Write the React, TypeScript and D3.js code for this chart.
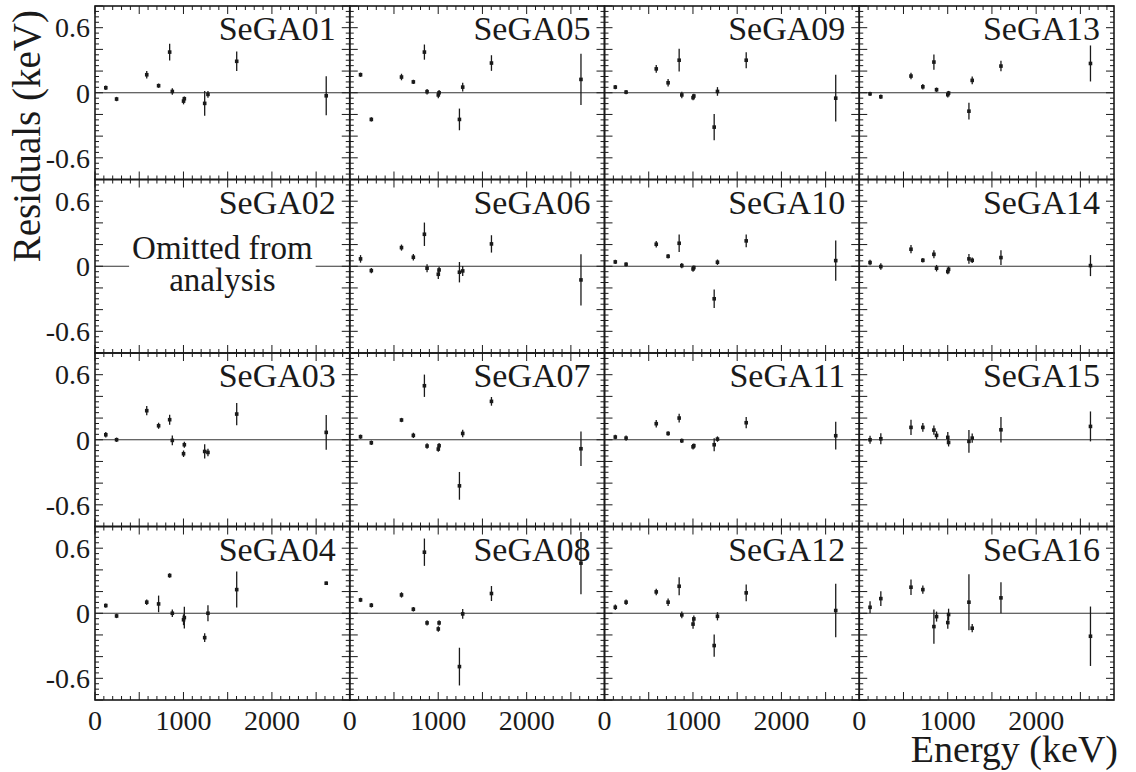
import React, { useEffect, useRef } from "react";
import * as d3 from "d3";

// gamma line energies (keV) used in every detector
const energies = [122, 244, 585, 719, 844, 874, 1001, 1010, 1240, 1277, 1602, 2614];

// residuals (keV) and errors per detector
const res01 = [0.046, -0.058, 0.166, 0.065, 0.375, 0.012, -0.077, -0.055, -0.098, -0.015, 0.29, -0.028];
const err01 = [0.02, 0.02, 0.035, 0.02, 0.077, 0.03, 0.03, 0.02, 0.115, 0.03, 0.09, 0.18];
const res03 = [0.046, 0.0, 0.268, 0.129, 0.185, -0.006, -0.129, -0.046, -0.108, -0.117, 0.237, 0.068];
const err03 = [0.025, 0.02, 0.043, 0.028, 0.046, 0.045, 0.03, 0.028, 0.066, 0.035, 0.103, 0.16];
const res04 = [0.071, -0.025, 0.102, 0.086, 0.348, 0.0, -0.06, -0.04, -0.225, 0.0, 0.218, 0.277];
const err04 = [0.02, 0.02, 0.025, 0.077, 0.02, 0.035, 0.05, 0.1, 0.04, 0.074, 0.166, 0.015];
const res05 = [0.166, -0.246, 0.145, 0.1, 0.375, 0.01, -0.02, 0.0, -0.246, 0.052, 0.274, 0.123];
const err05 = [0.02, 0.02, 0.03, 0.02, 0.07, 0.025, 0.03, 0.025, 0.1, 0.04, 0.072, 0.237];
const res06 = [0.068, -0.04, 0.172, 0.083, 0.295, -0.018, -0.074, -0.034, -0.055, -0.043, 0.206, -0.126];
const err06 = [0.035, 0.025, 0.028, 0.03, 0.108, 0.037, 0.043, 0.03, 0.094, 0.046, 0.08, 0.237];
const res07 = [0.028, -0.028, 0.182, 0.04, 0.498, -0.058, -0.086, -0.055, -0.425, 0.058, 0.354, -0.083];
const err07 = [0.02, 0.02, 0.02, 0.025, 0.103, 0.025, 0.025, 0.025, 0.128, 0.034, 0.04, 0.16];
const res08 = [0.123, 0.074, 0.169, 0.037, 0.563, -0.089, -0.145, -0.089, -0.492, -0.006, 0.182, 0.462];
const err08 = [0.02, 0.02, 0.025, 0.02, 0.126, 0.025, 0.025, 0.025, 0.174, 0.045, 0.069, 0.287];
const res09 = [0.052, 0.006, 0.22, 0.092, 0.3, -0.02, -0.045, -0.03, -0.317, 0.012, 0.3, -0.05];
const err09 = [0.02, 0.02, 0.035, 0.035, 0.105, 0.03, 0.025, 0.02, 0.12, 0.04, 0.074, 0.215];
const res10 = [0.04, 0.018, 0.203, 0.092, 0.212, 0.006, -0.025, -0.012, -0.3, 0.037, 0.234, 0.052];
const err10 = [0.02, 0.02, 0.03, 0.02, 0.08, 0.025, 0.025, 0.02, 0.085, 0.025, 0.058, 0.185];
const res11 = [0.025, 0.015, 0.148, 0.058, 0.2, -0.009, -0.065, -0.055, -0.046, 0.006, 0.157, 0.037];
const err11 = [0.02, 0.025, 0.035, 0.02, 0.04, 0.02, 0.025, 0.02, 0.06, 0.025, 0.052, 0.128];
const res12 = [0.055, 0.102, 0.197, 0.102, 0.249, -0.015, -0.1, -0.052, -0.298, -0.028, 0.188, 0.025];
const err12 = [0.025, 0.025, 0.03, 0.034, 0.082, 0.03, 0.043, 0.032, 0.103, 0.038, 0.077, 0.246];
const res13 = [-0.01, -0.037, 0.154, 0.055, 0.283, 0.028, -0.018, -0.003, -0.17, 0.114, 0.246, 0.27];
const err13 = [0.02, 0.02, 0.03, 0.025, 0.07, 0.02, 0.025, 0.02, 0.077, 0.035, 0.048, 0.166];
const res14 = [0.034, -0.003, 0.157, 0.055, 0.11, -0.018, -0.049, -0.028, 0.068, 0.055, 0.08, 0.006];
const err14 = [0.025, 0.03, 0.038, 0.02, 0.037, 0.03, 0.025, 0.025, 0.046, 0.025, 0.068, 0.097];
const res15 = [0.0, 0.009, 0.114, 0.114, 0.089, 0.04, 0.022, -0.025, -0.015, 0.015, 0.092, 0.123];
const err15 = [0.038, 0.05, 0.07, 0.04, 0.043, 0.038, 0.05, 0.037, 0.105, 0.043, 0.118, 0.138];
const res16 = [0.055, 0.135, 0.24, 0.218, -0.123, -0.031, -0.086, -0.012, 0.102, -0.138, 0.142, -0.212];
const err16 = [0.055, 0.069, 0.071, 0.038, 0.158, 0.046, 0.058, 0.054, 0.258, 0.038, 0.143, 0.274];

const detectors = ["SeGA01", "SeGA02", "SeGA03", "SeGA04", "SeGA05", "SeGA06", "SeGA07", "SeGA08",
  "SeGA09", "SeGA10", "SeGA11", "SeGA12", "SeGA13", "SeGA14", "SeGA15", "SeGA16"];
const residuals = [res01, null, res03, res04, res05, res06, res07, res08,
  res09, res10, res11, res12, res13, res14, res15, res16];
const errors = [err01, null, err03, err04, err05, err06, err07, err08,
  err09, err10, err11, err12, err13, err14, err15, err16];
const yTickLabels = [0.6, 0, -0.6];
const xTickLabels = [0, 1000, 2000];

const FONT = "'Liberation Serif', 'Times New Roman', serif";
const INK = "#1a1a1a";

const App = () => {
  const svgRef = useRef<SVGSVGElement>(null);
  useEffect(() => {
    const svg = d3.select(svgRef.current);
    svg.selectAll("*").remove();
    const width = 1136;
    const height = 772;
    const left = 95, right = 1114, top = 6, bottom = 700;
    const pw = (right - left) / 4;
    const ph = (bottom - top) / 4;

    svg.append("rect").attr("width", width).attr("height", height).attr("fill", "#fff");

    detectors.forEach((name, i) => {
      const col = Math.floor(i / 4);
      const row = i % 4;
      const x0 = left + col * pw;
      const y0 = top + row * ph;
      const x = d3.scaleLinear().domain([0, 2880]).range([x0, x0 + pw]);
      const y = d3.scaleLinear().domain([-0.8, 0.8]).range([y0 + ph, y0]);
      const g = svg.append("g");

      // zero line
      g.append("line")
        .attr("x1", x0).attr("x2", x0 + pw)
        .attr("y1", y(0)).attr("y2", y(0))
        .attr("stroke", "#333").attr("stroke-width", 1.2);

      // ticks on all four sides
      const xt = d3.range(0, 2880, 100);
      xt.forEach((v) => {
        const len = v % 500 === 0 ? 8 : 4;
        g.append("line").attr("x1", x(v)).attr("x2", x(v))
          .attr("y1", y0 + ph).attr("y2", y0 + ph - len)
          .attr("stroke", INK).attr("stroke-width", 1);
        g.append("line").attr("x1", x(v)).attr("x2", x(v))
          .attr("y1", y0).attr("y2", y0 + len)
          .attr("stroke", INK).attr("stroke-width", 1);
      });
      const yt = d3.range(-16, 17).map((k) => k * 0.05);
      yt.forEach((v, k) => {
        const len = (k - 16) % 4 === 0 ? 8 : 4;
        g.append("line").attr("x1", x0).attr("x2", x0 + len)
          .attr("y1", y(v)).attr("y2", y(v))
          .attr("stroke", INK).attr("stroke-width", 1);
        g.append("line").attr("x1", x0 + pw).attr("x2", x0 + pw - len)
          .attr("y1", y(v)).attr("y2", y(v))
          .attr("stroke", INK).attr("stroke-width", 1);
      });

      const res = residuals[i];
      const err = errors[i];
      if (res && err) {
        const pts = energies.map((e, j) => ({ e, r: res[j], s: err[j] }));
        g.selectAll("line.err").data(pts).join("line")
          .attr("class", "err")
          .attr("x1", (d) => x(d.e)).attr("x2", (d) => x(d.e))
          .attr("y1", (d) => y(d.r - d.s)).attr("y2", (d) => y(d.r + d.s))
          .attr("stroke", INK).attr("stroke-width", 1.3);
        g.selectAll("rect.pt").data(pts).join("rect")
          .attr("class", "pt")
          .attr("x", (d) => x(d.e) - 1.8).attr("y", (d) => y(d.r) - 1.8)
          .attr("width", 3.6).attr("height", 3.6)
          .attr("fill", INK);
      } else {
        // omitted detector: white box over the zero line
        const cx = x0 + pw / 2;
        const t1 = g.append("text").attr("x", cx).attr("y", y(0) - 7)
          .attr("text-anchor", "middle").attr("font-family", FONT)
          .attr("font-size", 33).attr("fill", INK).text("Omitted from");
        const tw = (t1.node() as SVGTextElement).getComputedTextLength();
        g.insert("rect", "text")
          .attr("x", cx - tw / 2 - 3).attr("y", y(0) - 30)
          .attr("width", tw + 6).attr("height", 60)
          .attr("fill", "#fff");
        g.append("text").attr("x", cx).attr("y", y(0) + 25)
          .attr("text-anchor", "middle").attr("font-family", FONT)
          .attr("font-size", 33).attr("fill", INK).text("analysis");
      }

      // frame
      g.append("rect").attr("x", x0).attr("y", y0).attr("width", pw).attr("height", ph)
        .attr("fill", "none").attr("stroke", INK).attr("stroke-width", 1.6);

      g.append("text").attr("x", x0 + pw - 14).attr("y", y0 + 34)
        .attr("text-anchor", "end").attr("font-family", FONT)
        .attr("font-size", 34).attr("fill", INK).text(name);

      if (col === 0) {
        yTickLabels.forEach((v) => {
          g.append("text").attr("x", x0 - 5).attr("y", y(v)).attr("dy", "0.35em")
            .attr("text-anchor", "end").attr("font-family", FONT)
            .attr("font-size", 28).attr("fill", INK).text(String(v));
        });
      }
      if (row === 3) {
        xTickLabels.forEach((v) => {
          g.append("text").attr("x", x(v)).attr("y", y0 + ph + 30)
            .attr("text-anchor", "middle").attr("font-family", FONT)
            .attr("font-size", 28).attr("fill", INK).text(String(v));
        });
      }
    });

    svg.append("text")
      .attr("transform", "rotate(-90)")
      .attr("x", -10).attr("y", 40)
      .attr("text-anchor", "end").attr("font-family", FONT)
      .attr("font-size", 39).attr("fill", INK).text("Residuals (keV)");
    svg.append("text")
      .attr("x", 1118).attr("y", 762)
      .attr("text-anchor", "end").attr("font-family", FONT)
      .attr("font-size", 38).attr("fill", INK).text("Energy (keV)");
  }, []);
  return (
    <svg ref={svgRef} width={1136} height={772}
      style={{ position: "absolute", left: 0, top: 0 }}></svg>
  );
};

export default App;
